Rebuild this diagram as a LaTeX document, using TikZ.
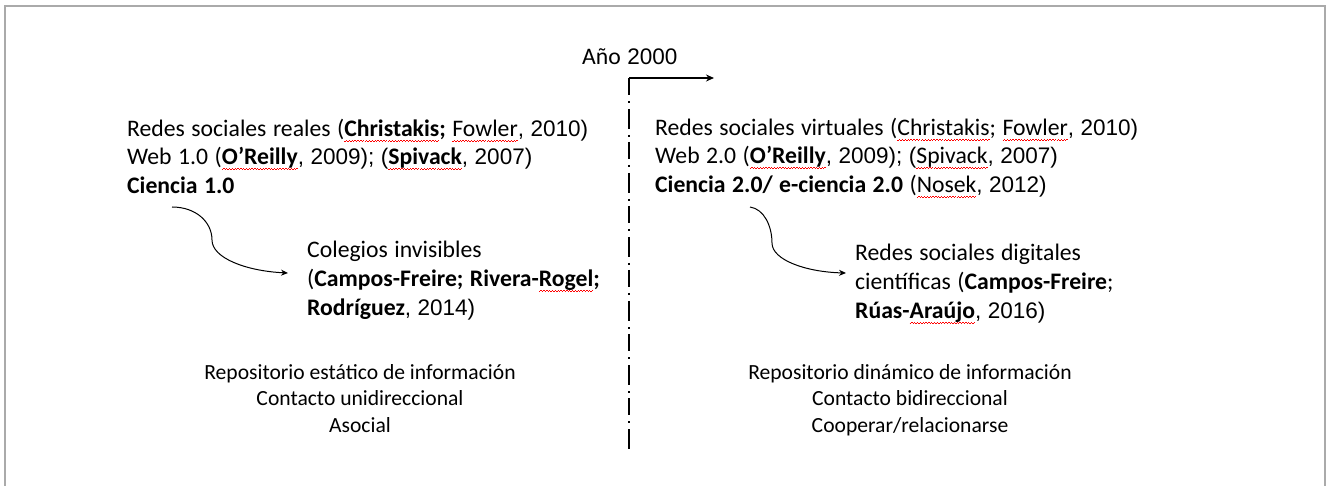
\documentclass[tikz,border=0pt]{standalone}
\usepackage{fontspec}
\setmainfont{Carlito}
\newfontfamily\ar[Scale=0.95]{Liberation Sans}
\usetikzlibrary{arrows.meta}
\newcommand\wv[1]{\setbox0\hbox{#1}\rlap{\color{red}\hbox to \wd0{\xleaders\hbox{\rule[-5pt]{1.4pt}{0.7pt}\rule[-4pt]{1.4pt}{0.7pt}}\hfill}}\box0}
\newcommand\widesp{\spaceskip=6.5pt plus 1pt\relax}
\definecolor{framegray}{RGB}{170,170,170}
\begin{document}
\begin{tikzpicture}[x=1pt,y=-1pt,
  txt/.style={inner sep=0pt, anchor=base west, font=\fontsize{23.7}{28}\selectfont\widesp},
  ctxt/.style={inner sep=0pt, anchor=base, font=\fontsize{21.6}{26}\selectfont},
  conn/.style={line width=1pt, -{Stealth[length=7pt,width=6pt]}},
]
\useasboundingbox (0,0) rectangle (1328,486);
\draw[framegray, line width=1.5pt] (5,490) -- (5,6) -- (1325,6) -- (1325,490);

% timeline
\node[txt] (year) at (582,65) {Año {\ar 2000}};
\coordinate (corner) at (629,78);
\coordinate (vend) at (629,454);
\coordinate (atip) at (714,78);
\draw[line width=1.6pt, dash pattern=on 17pt off 6pt on 2pt off 6pt on 20pt off 6pt on 2pt off 5pt] (corner) -- (vend);
\draw[line width=1.3pt, -{Stealth[length=8pt,width=7pt]}] (corner) -- (atip);

% left block
\node[txt] (l1) at (127,137) {Redes sociales reales (\textbf{\wv{Christakis};} \wv{Fowler}{\ar , 2010)}};
\node[txt] (l2) at (127,165) {Web 1.0 (\textbf{\wv{O’Reilly}}{\ar , 2009); (}\textbf{\wv{Spivack}}{\ar , 2007)}};
\node[txt] (l3) at (127,194) {\textbf{Ciencia 1.0}};

% right block
\node[txt] (r1) at (655,136) {Redes sociales virtuales (\wv{Christakis}; \wv{Fowler}{\ar , 2010)}};
\node[txt] (r2) at (655,164) {Web 2.0 (\textbf{\wv{O’Reilly}}{\ar , 2009); (}\wv{Spivack}{\ar , 2007)}};
\node[txt] (r3) at (655,193) {\textbf{Ciencia 2.0/ e-ciencia 2.0} (\wv{Nosek}{\ar , 2012)}};

% colegios
\node[txt] (c1) at (307,258) {Colegios invisibles};
\node[txt] (c2) at (307,287) {(\textbf{Campos-Freire; Rivera-\wv{Rogel};}};
\node[txt] (c3) at (307,316) {\textbf{Rodríguez}{\ar , 2014)}};

% digitales
\node[txt] (d1) at (855,261) {Redes sociales digitales};
\node[txt] (d2) at (855,290) {científicas (\textbf{Campos-Freire};};
\node[txt] (d3) at (855,319) {\textbf{Rúas-\wv{Araújo}}{\ar , 2016)}};

% curved arrows
\coordinate (la) at (172,207);
\coordinate (lb) at (288,273);
\draw[conn] (la) .. controls (196,207) and (212,222) .. (212,240) .. controls (212,258) and (246,271) .. (lb);
\coordinate (ra) at (750,207);
\coordinate (rb) at (846,273);
\draw[conn] (ra) .. controls (764,209) and (772,226) .. (772,243) .. controls (772,260) and (806,272) .. (rb);

% bottom texts
\node[ctxt] (b1) at (360,379) {Repositorio estático de información};
\node[ctxt] (b2) at (360,405.5) {Contacto unidireccional};
\node[ctxt] (b3) at (360,432) {Asocial};
\node[ctxt] (e1) at (910,379) {Repositorio dinámico de información};
\node[ctxt] (e2) at (910,405.5) {Contacto bidireccional};
\node[ctxt] (e3) at (910,432) {Cooperar/relacionarse};
\end{tikzpicture}
\end{document}
